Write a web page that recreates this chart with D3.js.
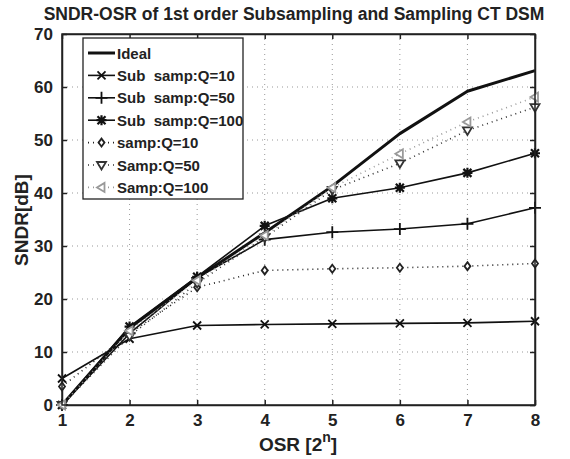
<!DOCTYPE html>
<html>
<head>
<meta charset="utf-8">
<script src="https://cdn.jsdelivr.net/npm/d3@7"></script>
<style>
  body { margin: 0; background: #fff; }
  text { font-family: "Liberation Sans", Arial, sans-serif; font-weight: bold; fill: #222; white-space: pre; }
</style>
</head>
<body>
<svg id="chart" width="570" height="459"></svg>
<script>
var osr = [1, 2, 3, 4, 5, 6, 7, 8];
var yTicks = [0, 10, 20, 30, 40, 50, 60, 70];

var ideal    = [0, 14.5, 24, 32.5, 41.3, 51.2, 59.2, 63.1];
var subQ10   = [5, 12.5, 15, 15.2, 15.3, 15.4, 15.5, 15.8];
var subQ50   = [0, 13.5, 24, 31.2, 32.6, 33.2, 34.2, 37.2];
var subQ100  = [0, 14.8, 24.2, 33.8, 39, 41, 43.8, 47.5];
var sampQ10  = [3.5, 13.5, 22.2, 25.4, 25.7, 25.9, 26.2, 26.7];
var sampQ50  = [0, 13, 23, 31.6, 40.6, 45.6, 51.8, 56.2];
var sampQ100 = [0, 14, 23.5, 32, 41, 47.4, 53.4, 58.1];

var series = [
  { name: 'Ideal',             values: ideal,    color: '#111', width: 3,   dash: null,  marker: 'none' },
  { name: 'Sub  samp:Q=10',    values: subQ10,   color: '#111', width: 1.6, dash: null,  marker: 'x' },
  { name: 'Sub  samp:Q=50',    values: subQ50,   color: '#111', width: 1.6, dash: null,  marker: 'plus' },
  { name: 'Sub  samp:Q=100',   values: subQ100,  color: '#111', width: 1.6, dash: null,  marker: 'star' },
  { name: 'samp:Q=10',         values: sampQ10,  color: '#222', width: 1.6, dash: '1,4', marker: 'diamond' },
  { name: 'Samp:Q=50',         values: sampQ50,  color: '#333', width: 1.6, dash: '1,4', marker: 'tridown' },
  { name: 'Samp:Q=100',        values: sampQ100, color: '#999', width: 1.6, dash: '1,4', marker: 'trileft' }
];

var svg = d3.select('#chart');
var L = 62, R = 535, T = 34, B = 405;

var x = d3.scaleLinear().domain([1, 8]).range([L, R]);
var y = d3.scaleLinear().domain([0, 70]).range([B, T]);

// grid
svg.append('g').selectAll('line.gx').data(osr.slice(1, -1)).enter().append('line')
  .attr('x1', d => x(d)).attr('x2', d => x(d)).attr('y1', T).attr('y2', B)
  .attr('stroke', '#999').attr('stroke-width', 1).attr('stroke-dasharray', '1,4');
svg.append('g').selectAll('line.gy').data(yTicks.slice(1, -1)).enter().append('line')
  .attr('x1', L).attr('x2', R).attr('y1', d => y(d)).attr('y2', d => y(d))
  .attr('stroke', '#999').attr('stroke-width', 1).attr('stroke-dasharray', '1,4');

// axes
var xb = svg.append('g').attr('transform', 'translate(0,' + B + ')')
  .call(d3.axisBottom(x).tickValues(osr).tickFormat(d3.format('d')).tickSizeInner(-5).tickSizeOuter(0).tickPadding(9));
var xt = svg.append('g').attr('transform', 'translate(0,' + T + ')')
  .call(d3.axisTop(x).tickValues(osr).tickFormat('').tickSizeInner(-5).tickSizeOuter(0));
var yl = svg.append('g').attr('transform', 'translate(' + L + ',0)')
  .call(d3.axisLeft(y).tickValues(yTicks).tickSizeInner(-5).tickSizeOuter(0).tickPadding(9));
var yr = svg.append('g').attr('transform', 'translate(' + R + ',0)')
  .call(d3.axisRight(y).tickValues(yTicks).tickFormat('').tickSizeInner(-5).tickSizeOuter(0));
[xb, xt, yl, yr].forEach(function (g) {
  g.selectAll('path, line').attr('stroke', '#222').attr('stroke-width', 1.5);
  g.selectAll('text').style('font-size', '17px').attr('fill', '#222');
});

// lines
var line = d3.line().x((d, i) => x(osr[i])).y(d => y(d));
series.forEach(function (s) {
  svg.append('path').datum(s.values).attr('d', line)
    .attr('fill', 'none').attr('stroke', s.color).attr('stroke-width', s.width)
    .attr('stroke-dasharray', s.dash).attr('stroke-linejoin', 'round');
});

function drawMarker(g, type, cx, cy, color) {
  var p, sw = 1.8, fill = 'none';
  if (type === 'x') p = 'M-4,-4L4,4M-4,4L4,-4';
  else if (type === 'plus') p = 'M-6,0L6,0M0,-6L0,6';
  else if (type === 'star') { p = 'M-5,0L5,0M0,-5L0,5M-4,-4L4,4M-4,4L4,-4'; sw = 2.2; }
  else if (type === 'diamond') { p = 'M0,-4L3,0L0,4L-3,0Z'; fill = '#fff'; }
  else if (type === 'tridown') { p = 'M-4.5,-3L4.5,-3L0,4.5Z'; fill = '#fff'; }
  else if (type === 'trileft') { p = 'M3,-4.5L3,4.5L-4.5,0Z'; fill = '#fff'; }
  else return;
  g.append('path').attr('d', p).attr('transform', 'translate(' + cx + ',' + cy + ')')
    .attr('stroke', color).attr('stroke-width', sw).attr('fill', fill);
}

// markers
series.forEach(function (s) {
  var g = svg.append('g');
  s.values.forEach(function (v, i) { drawMarker(g, s.marker, x(osr[i]), y(v), s.color); });
});

// frame on top
svg.append('rect').attr('x', L).attr('y', T).attr('width', R - L).attr('height', B - T)
  .attr('fill', 'none').attr('stroke', '#222').attr('stroke-width', 1.5);

// legend
var lg = svg.append('g');
lg.append('rect').attr('x', 83).attr('y', 38).attr('width', 160).attr('height', 161)
  .attr('fill', '#fff').attr('stroke', '#222').attr('stroke-width', 1.3);
series.forEach(function (s, i) {
  var ly = 53 + i * 22.4;
  lg.append('line').attr('x1', 88).attr('x2', 115).attr('y1', ly).attr('y2', ly)
    .attr('stroke', s.color).attr('stroke-width', s.width).attr('stroke-dasharray', s.dash);
  drawMarker(lg, s.marker, 101.5, ly, s.color);
  lg.append('text').attr('x', 117).attr('y', ly + 5.5).style('font-size', '15px').text(s.name);
});

// titles
svg.append('text').attr('x', 294).attr('y', 20).attr('text-anchor', 'middle')
  .style('font-size', '17.5px').text('SNDR-OSR of 1st order Subsampling and Sampling CT DSM');
var xl = svg.append('text').attr('x', 298).attr('y', 451).attr('text-anchor', 'middle').style('font-size', '19px');
xl.append('tspan').text('OSR [2');
xl.append('tspan').attr('dy', -9).style('font-size', '14px').text('n');
xl.append('tspan').attr('dy', 9).text(']');
svg.append('text').attr('transform', 'translate(28,220) rotate(-90)').attr('text-anchor', 'middle')
  .style('font-size', '19px').text('SNDR[dB]');
</script>
</body>
</html>
